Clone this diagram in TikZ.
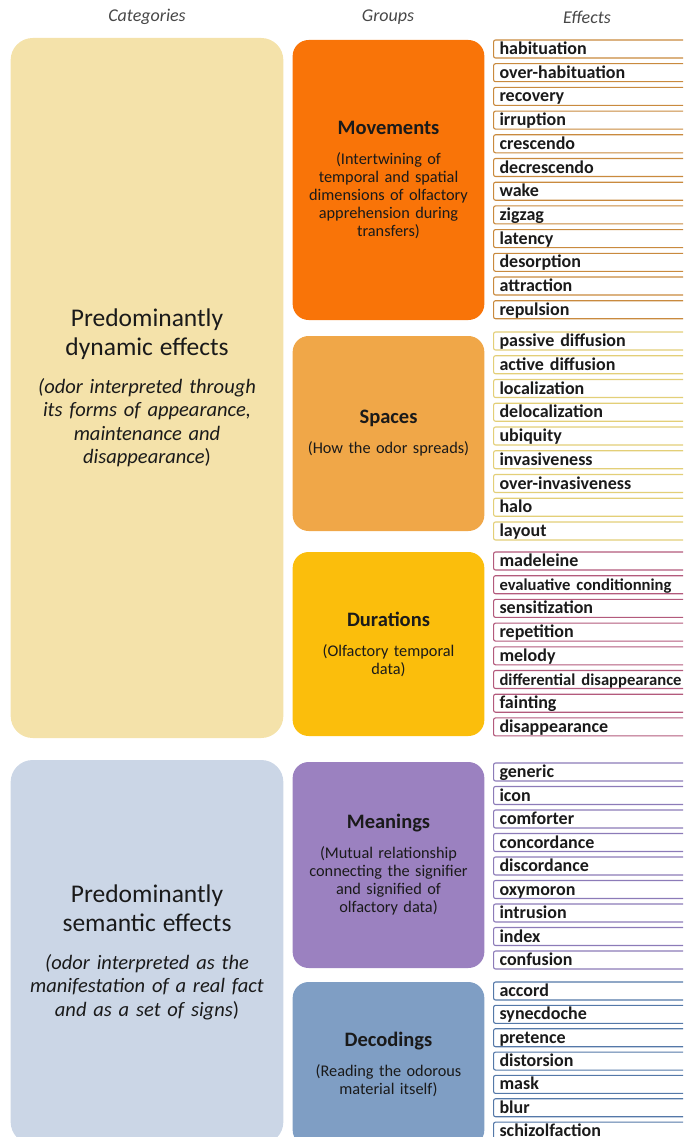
\documentclass[tikz,border=0pt]{standalone}
\usepackage{fontspec}
\setmainfont{Carlito}
\usepackage{xcolor}
\usetikzlibrary{positioning}
\definecolor{catDyn}{HTML}{F4E2AA}
\definecolor{catSem}{HTML}{CBD6E6}
\definecolor{grpMov}{HTML}{F97408}
\definecolor{grpSpa}{HTML}{F0A748}
\definecolor{grpDur}{HTML}{FBBE0C}
\definecolor{grpMea}{HTML}{9B81C0}
\definecolor{grpDec}{HTML}{7F9EC4}
\definecolor{brdMov}{HTML}{C98A3E}
\definecolor{brdSpa}{HTML}{E3CF78}
\definecolor{brdDur}{HTML}{B35A7C}
\definecolor{brdMea}{HTML}{8C7BB8}
\definecolor{brdDec}{HTML}{5478A8}
\definecolor{txtDark}{HTML}{1A1A1A}
\tikzset{
  headtxt/.style={font=\fontsize{18}{21}\selectfont\itshape, text=black!72},
  catbox/.style={fill=#1, draw=none, rounded corners=22pt, minimum width=272pt,
    text width=266pt, align=center, text=txtDark,
    font=\fontsize{20.5}{23.5}\selectfont},
  grpbox/.style={fill=#1, draw=none, rounded corners=16pt, minimum width=189pt,
    text width=185pt, align=center, text=txtDark,
    font=\fontsize{16.3}{18}\selectfont},
  effbox/.style={draw=#1, line width=1.1pt, fill=white, rounded corners=2pt,
    anchor=west, text height=13.5pt, text depth=2.5pt, text width=220pt,
    inner xsep=6pt, inner ysep=1pt, align=left, text=txtDark,
    font=\fontsize{18}{20}\selectfont\bfseries}
}
\newcommand{\grptitle}[1]{{\fontsize{20.5}{23}\selectfont\bfseries #1}\\[12pt]}
\newcommand{\catline}[1]{{\fontsize{25.5}{29}\selectfont #1}}
\newcommand{\tight}[1]{{\fontsize{16.6}{18}\selectfont #1}}
\begin{document}
\begin{tikzpicture}[x=1pt,y=-1pt]
        \useasboundingbox (0,0) rectangle (683,1137);
        \clip (0,0) rectangle (683,1137);
        % column headers
        \node[headtxt] (hcat) at (147,17) {Categories};
        \node[headtxt] (hgrp) at (388,17) {Groups};
        \node[headtxt] (heff) at (587,17) {Effects};
        % categories
        \node[catbox=catDyn, minimum height=700pt] (dyn) at (147,388)
          {\catline{Predominantly}\\[5.5pt]\catline{dynamic effects}\\[14.5pt]
           \itshape (odor interpreted through\\its forms of appearance,\\maintenance and\\disappearance\upshape)\\[-4pt]};
        \node[catbox=catSem, minimum height=384pt] (sem) at (147,952)
          {\catline{Predominantly}\\[5.5pt]\catline{semantic effects}\\[14.5pt]
           \itshape (odor interpreted as the\\manifestation of a real fact\\and as a set of signs\upshape)\\[-4pt]};
        % groups
        \node[grpbox=grpMov, minimum height=280pt] (mov) at (388.5,180)
          {\grptitle{Movements}(Intertwining of\\temporal and spatial\\dimensions of olfactory\\apprehension during\\transfers)\\[-3pt]};
        \node[grpbox=grpSpa, minimum height=195pt] (spa) at (388.5,433.5)
          {\grptitle{Spaces}(How the odor spreads)\\[-3pt]};
        \node[grpbox=grpDur, minimum height=184pt] (dur) at (388.5,644)
          {\grptitle{Durations}(Olfactory temporal\\data)\\[-3pt]};
        \node[grpbox=grpMea, minimum height=206pt] (mea) at (388.5,865)
          {\grptitle{Meanings}(Mutual relationship\\connecting the signifier\\and signified of\\olfactory data)\\[-3pt]};
        \node[grpbox=grpDec, minimum height=164pt] (dec) at (388.5,1064)
          {\grptitle{Decodings}(Reading the odorous\\material itself)\\[-3pt]};
        % effects
        \foreach [count=\i] \eff in {habituation,over-habituation,recovery,irruption,
            crescendo,decrescendo,wake,zigzag,latency,desorption,attraction,repulsion}
          \node[effbox=brdMov] (mov\i) at (493,{49+23.7*(\i-1)}) {\eff};
        \foreach [count=\i] \eff in {passive diffusion,active diffusion,localization,
            delocalization,ubiquity,invasiveness,over-invasiveness,halo,layout}
          \node[effbox=brdSpa] (spa\i) at (493,{341+23.75*(\i-1)}) {\eff};
        \foreach [count=\i] \eff in {madeleine,\tight{evaluative conditionning},sensitization,
            repetition,melody,\tight{differential disappearance},fainting,disappearance}
          \node[effbox=brdDur] (dur\i) at (493,{561+23.7*(\i-1)}) {\eff};
        \foreach [count=\i] \eff in {generic,icon,comforter,concordance,discordance,
            oxymoron,intrusion,index,confusion}
          \node[effbox=brdMea] (mea\i) at (493,{772+23.5*(\i-1)}) {\eff};
        \foreach [count=\i] \eff in {accord,synecdoche,pretence,distorsion,mask,
            blur,schizolfaction}
          \node[effbox=brdDec] (dec\i) at (493,{991+23.35*(\i-1)}) {\eff};
      \end{tikzpicture}
\end{document}
